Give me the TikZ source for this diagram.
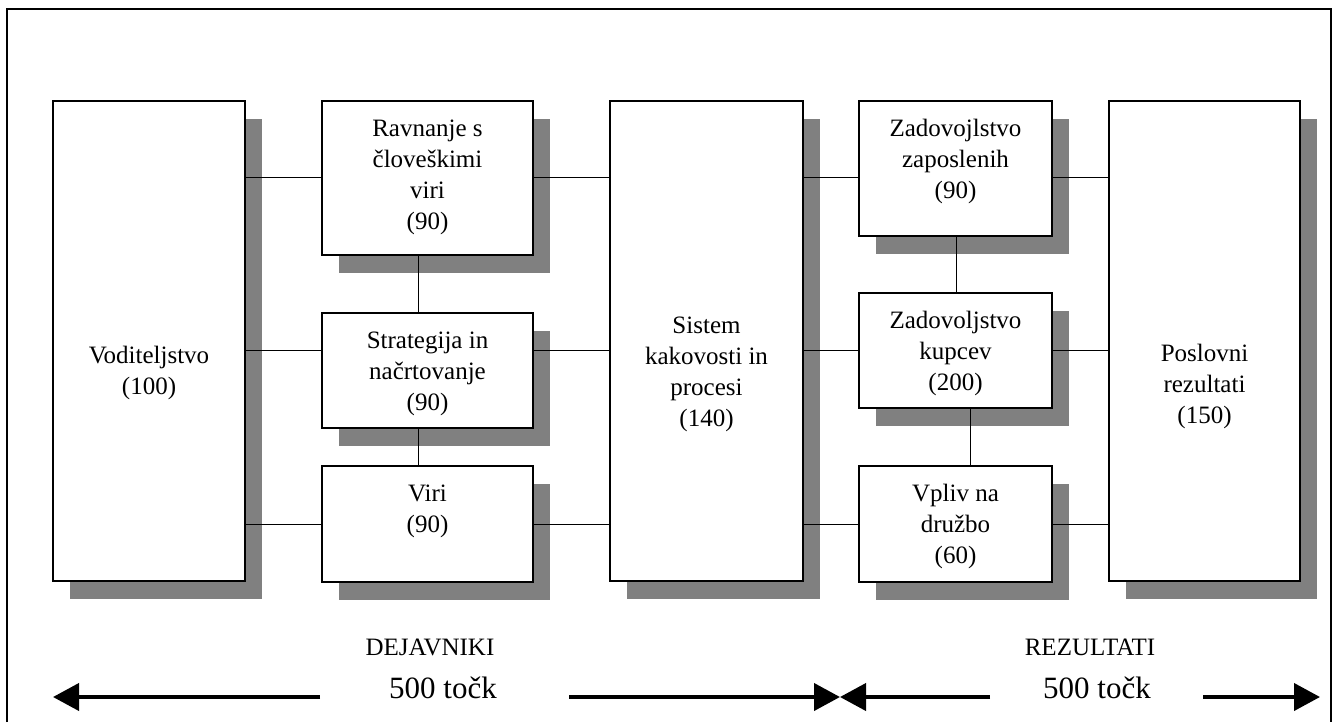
\documentclass[tikz,border=0pt]{standalone}
\usepackage{fontspec}
\setmainfont{Liberation Serif}
\usetikzlibrary{shadows,arrows.meta}
\begin{document}
\begin{tikzpicture}[x=1pt,y=-1pt,
  box/.style={draw, line width=1.3pt, fill=white, inner sep=0pt, outer sep=0pt,
    drop shadow={shadow xshift=17pt, shadow yshift=-18pt, fill=black!50, draw=none, opacity=1}},
  txt/.style={anchor=north, inner sep=0pt, align=center,
    font=\fontsize{25}{31}\selectfont},
  conn/.style={line width=1pt},
  big/.style={line width=4pt, -{Triangle[length=26pt,width=27pt]}},
  foot/.style={anchor=base, inner sep=0pt, font=\fontsize{25}{31}\selectfont},
  pts/.style={anchor=base, inner sep=0pt, font=\fontsize{31}{37}\selectfont}]
\useasboundingbox (0,0) rectangle (1337,722);

% outer frame
\draw[line width=1.3pt] (7,722) -- (7,9) -- (1331,9) -- (1331,722);

% boxes
\node[box, minimum width=192, minimum height=480] (vod) at (149,341) {};
\node[box, minimum width=211, minimum height=154] (rav) at (427.5,178) {};
\node[box, minimum width=211, minimum height=115] (str) at (427.5,370.5) {};
\node[box, minimum width=211, minimum height=116] (vir) at (427.5,524) {};
\node[box, minimum width=193, minimum height=480] (sis) at (706.5,341) {};
\node[box, minimum width=193, minimum height=135] (zap) at (955.5,168.5) {};
\node[box, minimum width=193, minimum height=115] (kup) at (955.5,350.5) {};
\node[box, minimum width=193, minimum height=116] (vpl) at (955.5,524) {};
\node[box, minimum width=191, minimum height=480] (pos) at (1204.5,341) {};

% box texts
\node[txt] (vod-t) at (149,341.3) {\strut Voditeljstvo\\(100)};
\node[txt] (rav-t) at (427.5,114.3) {\strut Ravnanje s\\človeškimi\\viri\\(90)};
\node[txt] (str-t) at (427.5,326.3) {\strut Strategija in\\načrtovanje\\(90)};
\node[txt] (vir-t) at (427.5,479.3) {\strut Viri\\(90)};
\node[txt] (sis-t) at (706.5,311.3) {\strut Sistem\\kakovosti in\\procesi\\(140)};
\node[txt] (zap-t) at (955.5,114.3) {\strut Zadovojlstvo\\zaposlenih\\(90)};
\node[txt] (kup-t) at (955.5,306.3) {\strut Zadovoljstvo\\kupcev\\(200)};
\node[txt] (vpl-t) at (955.5,479.3) {\strut Vpliv na\\družbo\\(60)};
\node[txt] (pos-t) at (1204.5,339.3) {\strut Poslovni\\rezultati\\(150)};

% connector levels
\coordinate (r1) at (0,178);
\coordinate (r2) at (0,350);
\coordinate (r3) at (0,524);
\coordinate (c1) at (418,0);
\coordinate (c2) at (956,0);
\coordinate (c3) at (970,0);

% horizontal connectors
\draw[conn] (vod.east |- r1) -- (rav.west |- r1);
\draw[conn] (vod.east |- r2) -- (str.west |- r2);
\draw[conn] (vod.east |- r3) -- (vir.west |- r3);
\draw[conn] (rav.east |- r1) -- (sis.west |- r1);
\draw[conn] (str.east |- r2) -- (sis.west |- r2);
\draw[conn] (vir.east |- r3) -- (sis.west |- r3);
\draw[conn] (sis.east |- r1) -- (zap.west |- r1);
\draw[conn] (sis.east |- r2) -- (kup.west |- r2);
\draw[conn] (sis.east |- r3) -- (vpl.west |- r3);
\draw[conn] (zap.east |- r1) -- (pos.west |- r1);
\draw[conn] (kup.east |- r2) -- (pos.west |- r2);
\draw[conn] (vpl.east |- r3) -- (pos.west |- r3);

% vertical connectors
\draw[conn] (rav.south -| c1) -- (str.north -| c1);
\draw[conn] (str.south -| c1) -- (vir.north -| c1);
\draw[conn] (zap.south -| c2) -- (kup.north -| c2);
\draw[conn] (kup.south -| c3) -- (vpl.north -| c3);

% bottom scale
\node[foot] (dej) at (430,655) {DEJAVNIKI};
\node[foot] (rez) at (1090,655) {REZULTATI};
\node[pts] (p1) at (443,698) {500 točk};
\node[pts] (p2) at (1097,698) {500 točk};

\coordinate (a1s) at (320,697);
\coordinate (a1e) at (53,697);
\coordinate (a2s) at (569,697);
\coordinate (a2e) at (840,697);
\coordinate (a3s) at (990,697);
\coordinate (a4s) at (1203,697);
\coordinate (a4e) at (1320,697);
\draw[big] (a1s) -- (a1e);
\draw[big] (a2s) -- (a2e);
\draw[big] (a3s) -- (a2e);
\draw[big] (a4s) -- (a4e);
\end{tikzpicture}
\end{document}
